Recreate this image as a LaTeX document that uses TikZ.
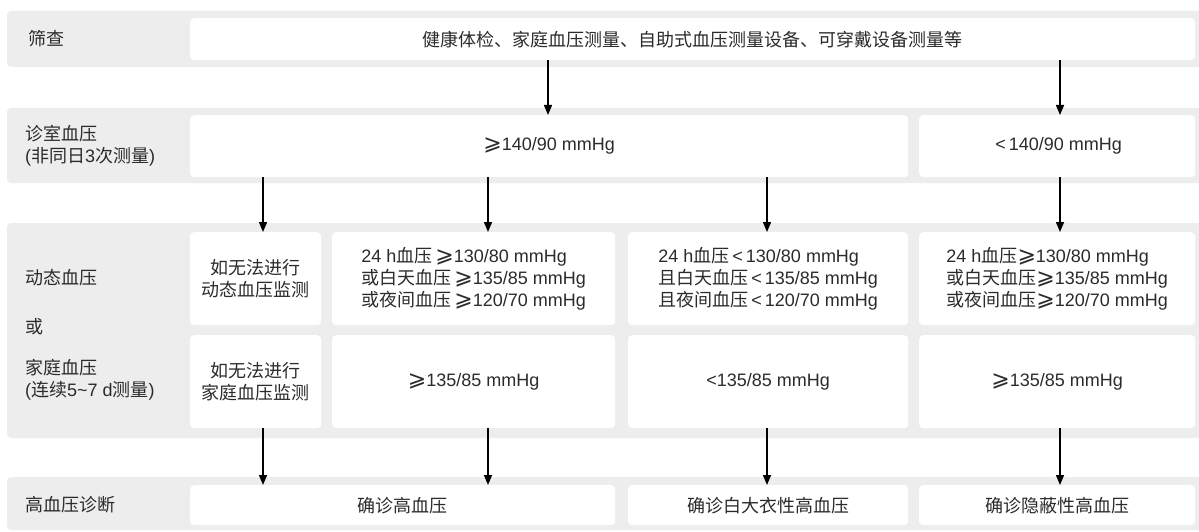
\documentclass[tikz,border=0pt]{standalone}
\usepackage{fontspec}
\setmainfont{Liberation Sans}
\newfontfamily\cjk{Noto Sans CJK SC}
\newfontfamily\symf{DejaVu Sans}
\usetikzlibrary{arrows.meta}
\newcommand\zh[1]{{\cjk #1}}
\newcommand\gesym{{\symf\fontsize{22}{22}\selectfont ⩾}}
\newcommand\ltsym{{\fontsize{18}{22}\selectfont\,<\,}}
\definecolor{bandc}{HTML}{EDEDED}
\definecolor{txtc}{HTML}{2B2B2B}
\begin{document}
\begin{tikzpicture}[x=1pt,y=-1pt,
  font=\fontsize{18}{22}\selectfont, text=txtc,
  band/.style={fill=bandc, rounded corners=4pt},
  wbox/.style={fill=white, rounded corners=4pt, anchor=north west, inner sep=0pt, align=center},
  lab/.style={anchor=west, align=left, inner sep=0pt},
  arr/.style={-{Triangle[length=10pt,width=8pt]}, line width=1.4pt, draw=black}]
\useasboundingbox (0,0) rectangle (1199,532);
\fill[white] (0,0) rectangle (1199,532);
% bands
\fill[band] (7,11) rectangle (1205,67);
\fill[band] (7,108) rectangle (1205,183);
\fill[band] (7,223) rectangle (1205,438);
\fill[band] (7,477) rectangle (1205,530);
% labels
\node[lab] (l1) at (28,39) {\zh{筛查}};
\node[lab] (l2) at (25,146) {\zh{诊室血压}\\(\zh{非同日}3\zh{次测量})};
\node[lab] (l3a) at (25,278) {\zh{动态血压}};
\node[lab] (l3b) at (25,327) {\zh{或}};
\node[lab] (l3c) at (25,380) {\zh{家庭血压}\\(\zh{连续}5\textasciitilde7 d\zh{测量})};
\node[lab] (l4) at (25,505) {\zh{高血压诊断}};
% boxes
\node[wbox, minimum width=1005pt, minimum height=42pt] (scr) at (190,18)
  {\zh{健康体检、家庭血压测量、自助式血压测量设备、可穿戴设备测量等}};
\node[wbox, minimum width=718pt, minimum height=62pt] (off1) at (190,115) {\gesym140/90 mmHg};
\node[wbox, minimum width=276pt, minimum height=62pt] (off2) at (919,115) {\ltsym140/90 mmHg};
\node[wbox, minimum width=131pt, minimum height=93pt] (a1) at (190,232) {\zh{如无法进行}\\\zh{动态血压监测}};
\node[wbox, minimum width=283pt, minimum height=93pt, align=left] (a2) at (332,232)
  {24 h\zh{血压}\,\gesym130/80 mmHg\\\zh{或白天血压}\,\gesym135/85 mmHg\\\zh{或夜间血压}\,\gesym120/70 mmHg};
\node[wbox, minimum width=280pt, minimum height=93pt, align=left] (a3) at (628,232)
  {24 h\zh{血压}\ltsym130/80 mmHg\\\zh{且白天血压}\ltsym135/85 mmHg\\\zh{且夜间血压}\ltsym120/70 mmHg};
\node[wbox, minimum width=276pt, minimum height=93pt, align=left] (a4) at (919,232)
  {24 h\zh{血压}\gesym130/80 mmHg\\\zh{或白天血压}\gesym135/85 mmHg\\\zh{或夜间血压}\gesym120/70 mmHg};
\node[wbox, minimum width=131pt, minimum height=93pt] (h1) at (190,335) {\zh{如无法进行}\\\zh{家庭血压监测}};
\node[wbox, minimum width=283pt, minimum height=93pt] (h2) at (332,335) {\gesym135/85 mmHg};
\node[wbox, minimum width=280pt, minimum height=93pt] (h3) at (628,335) {<135/85 mmHg};
\node[wbox, minimum width=276pt, minimum height=93pt] (h4) at (919,335) {\gesym135/85 mmHg};
\node[wbox, minimum width=425pt, minimum height=40pt] (d1) at (190,485) {\zh{确诊高血压}};
\node[wbox, minimum width=280pt, minimum height=40pt] (d2) at (628,485) {\zh{确诊白大衣性高血压}};
\node[wbox, minimum width=276pt, minimum height=40pt] (d3) at (919,485) {\zh{确诊隐蔽性高血压}};
% arrow columns
\coordinate (x0) at (548,0);
\coordinate (x1) at (263,0);
\coordinate (x2) at (488,0);
\coordinate (x3) at (767,0);
\coordinate (x4) at (1060,0);
\draw[arr] (scr.south -| x0) -- (off1.north -| x0);
\draw[arr] (scr.south -| x4) -- (off2.north -| x4);
\draw[arr] (off1.south -| x1) -- (a1.north -| x1);
\draw[arr] (off1.south -| x2) -- (a2.north -| x2);
\draw[arr] (off1.south -| x3) -- (a3.north -| x3);
\draw[arr] (off2.south -| x4) -- (a4.north -| x4);
\draw[arr] (h1.south -| x1) -- (d1.north -| x1);
\draw[arr] (h2.south -| x2) -- (d1.north -| x2);
\draw[arr] (h3.south -| x3) -- (d2.north -| x3);
\draw[arr] (h4.south -| x4) -- (d3.north -| x4);
\end{tikzpicture}
\end{document}
